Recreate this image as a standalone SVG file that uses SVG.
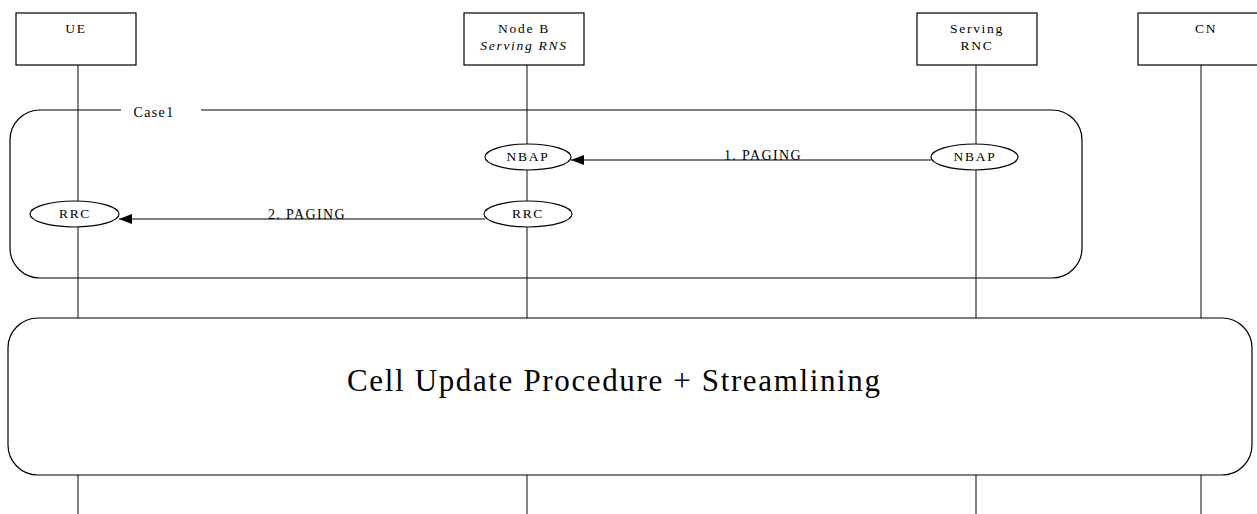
<svg xmlns="http://www.w3.org/2000/svg" width="1257" height="514" viewBox="0 0 1257 514">
<defs>
<style>
.box{fill:#fff;stroke:#000;stroke-width:1.2}
.life{stroke:#333;stroke-width:1.2}
.t{font-family:"Liberation Serif","Times New Roman",serif;font-size:13.5px;letter-spacing:1.7px;fill:#000;text-anchor:middle}
.lbl{font-family:"Liberation Serif","Times New Roman",serif;font-size:14px;letter-spacing:1.4px;fill:#000;text-anchor:middle}
.ell{fill:#fff;stroke:#000;stroke-width:1.2}
.msg{stroke:#000;stroke-width:1.2;fill:none}
</style>
<marker id="ah" markerWidth="13" markerHeight="10" refX="13" refY="5" orient="auto" markerUnits="userSpaceOnUse">
<path d="M0,0 L13,5 L0,10 Z" fill="#000"/>
</marker>
</defs>
<rect width="1257" height="514" fill="#fff"/>
<g id="lifelines">
<line class="life" x1="78" y1="65" x2="78" y2="514"/>
<line class="life" x1="527" y1="65" x2="527" y2="514"/>
<line class="life" x1="976" y1="65" x2="976" y2="514"/>
<line class="life" x1="1201" y1="65" x2="1201" y2="514"/>
</g>
<g id="ue">
<rect class="box" x="16" y="13" width="120" height="52"/>
<text class="t" x="76" y="33">UE</text>
</g>
<g id="nodeb">
<rect class="box" x="464" y="13" width="120" height="52"/>
<text class="t" x="524" y="33">Node B</text>
<text class="t" x="524" y="50" font-style="italic">Serving RNS</text>
</g>
<g id="rnc">
<rect class="box" x="917" y="13" width="120" height="52"/>
<text class="t" x="977" y="33">Serving</text>
<text class="t" x="977" y="50">RNC</text>
</g>
<g id="cn">
<rect class="box" x="1138" y="13" width="125" height="52"/>
<text class="t" x="1206" y="33">CN</text>
</g>
<g id="case1">
<path class="msg" d="M121,110 H40 A30,30 0 0 0 10,140 V248 A30,30 0 0 0 40,278 H1052 A30,30 0 0 0 1082,248 V140 A30,30 0 0 0 1052,110 H201"/>
<text class="lbl" x="154" y="117" font-size="14" letter-spacing="1.7">Case1</text>
</g>
<g id="connectors">
<line class="msg" x1="931" y1="160" x2="571" y2="160" marker-end="url(#ah)"/>
<line class="msg" x1="485" y1="219" x2="119" y2="219" marker-end="url(#ah)"/>
<text class="lbl" x="763" y="160">1. PAGING</text>
<text class="lbl" x="307" y="219">2. PAGING</text>
</g>
<g id="nbap-nodeb">
<ellipse class="ell" cx="528" cy="157" rx="43" ry="13"/>
<text class="t" x="528" y="161" font-size="13">NBAP</text>
</g>
<g id="nbap-rnc">
<ellipse class="ell" cx="974.5" cy="157" rx="43.5" ry="13"/>
<text class="t" x="975" y="161" font-size="13">NBAP</text>
</g>
<g id="rrc-ue">
<ellipse class="ell" cx="74.5" cy="214" rx="44.5" ry="13"/>
<text class="t" x="75" y="218" font-size="13">RRC</text>
</g>
<g id="rrc-nodeb">
<ellipse class="ell" cx="528" cy="214" rx="44" ry="13"/>
<text class="t" x="528" y="218" font-size="13">RRC</text>
</g>
<g id="cellupdate">
<rect class="box" x="8" y="318" width="1244" height="157" rx="30" ry="30"/>
<text x="613.5" y="391" font-family="'Liberation Serif','Times New Roman',serif" font-size="31" text-anchor="middle" textLength="533" lengthAdjust="spacing">Cell Update Procedure + Streamlining</text>
</g>
</svg>
